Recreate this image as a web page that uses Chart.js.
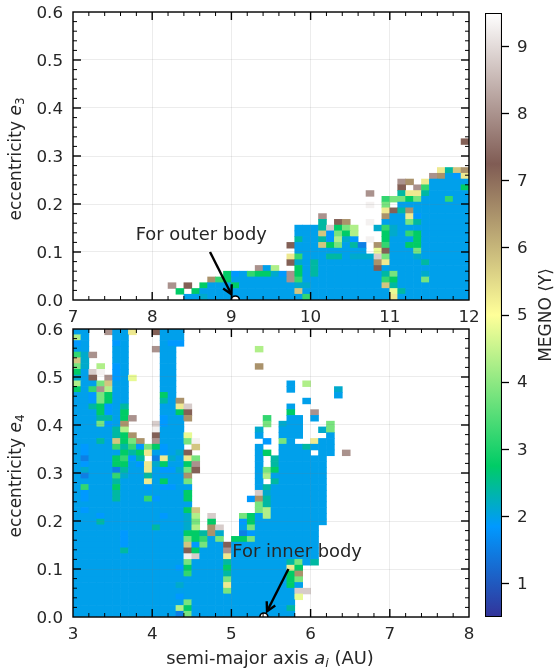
<!DOCTYPE html>
<html>
<head>
<meta charset="utf-8">
<title>MEGNO maps</title>
<script src="https://cdn.jsdelivr.net/npm/chart.js@4/dist/chart.umd.min.js"></script>
<style>
  html, body { margin: 0; padding: 0; background: #fff; }
  canvas { position: absolute; }
</style>
</head>
<body>
<canvas id="outerMap" style="left:0;top:0"></canvas>
<canvas id="innerMap" style="left:0;top:310px"></canvas>
<canvas id="colorBar" style="left:470px;top:0"></canvas>
<script>
// MEGNO, one char per cell, top row first, groups of 10 columns
// code -> value is in megnoLevels, '.' = no data
const megnoLevels = { 0: 1.5, 1: 1.85, 2: 1.97, 3: 2.15, 4: 2.4, 5: 2.75, 6: 3.2, 7: 3.8, 8: 4.3, 9: 4.8,
    a: 5.3, b: 5.8, c: 6.5, d: 7.2, e: 8.0, f: 8.8, g: 9.3 };

const outerRows = [
    '', '', '', '', '', '', '', '', '', '', '', '', '', '', '', '', '', '', '', '', '', '',
    '.......... .......... .......... .......... .........d',
    '', '', '', '',
    '.......... .......... .......... .......... ......a4bc',
    '.......... .......... .......... .......... .....ec21a',
    '.......... .......... .......... .......... .ec.a22222',
    '.......... .......... .......... .......... .d.e622225',
    '.......... .......... .......... .......e.. .4aa422222',
    '.......... .......... .......... .........6 7757222622',
    '.......... .......... .......... .......g.7 .222222222',
    '.......... .......... .......... .........a d4c2222222',
    '.......... .......... .......... .e.......c 22a1222222',
    '.......... .......... .......... .4.dc..g.2 2274222222',
    '.......... .......... ........22 24f578..36 3222222222',
    '.......... .......... ........22 2b1758...5 3265222222',
    '.......... .......... ........42 241831.g.5 2225222222',
    '.......... .......... .......d22 2b57240.c6 2255222222',
    '.......... .......... ........22 2222222.9d 2227222222',
    '.......... .......... .......a62 22442333f7 2223222222',
    '.......... .......... .......d32 42222222ca 2222422222',
    '.......... .......... ...e28..52 42222222d2 2222222222',
    '.......... .........5 1265531e52 4222222224 7222322222',
    '.......... .......c65 2222222e62 2222222226 5222722222',
    '.......... ..e.d.5222 5222222233 222222222b 4222222222',
    '.......... ...5.52222 22222222b2 2222222222 9422222222',
    '.......... ....223222 2222222226 2222222222 a222222222'
];

const innerRows = [
    '22..e22a.. d222',
    '82...22... .222',
    '12...12... .211',
    '22...22... e22 ...8',
    '63e..22... .22',
    'b3...22... .22',
    '73.8.12... .22 ...c',
    '52fg.12... .22',
    '32d.e129.. .22',
    '8227b22... .22 .......2.8',
    '526e822... .22 .......2.. ...3',
    '2217522... .52 .......... ...2',
    '2217522... .42c .........2',
    '2245124... .22af .......2..',
    '2225125... .225d .......5.. e',
    '2224425e.. .122c ....6..22. 2',
    '222712c... f122 ....7.322. ..7',
    '2222248... g222 ...3..222. .37',
    '2222245c.. d2229 ...2..222. ..2',
    '22242b57c. e2227g ....1.72.. a22',
    '2122264617 5122.b ...2..2224 222',
    '212222545a 2123d ...25.2222 .22.e',
    '202225614. 0a32a7 ...2.42222 22',
    '212225521a 35225e ...2.42222 22',
    '232220422a 21137d ...2752222 22',
    '2022263224 2222c ...2822222 22',
    '222224222a 25227 ...2.42222 22',
    '2622252221 21122 ...2422222 22',
    '2122242222 22225 ...f322222 22',
    '2122242226 12225 ..1c422222 22',
    '2222222222 22222 ...7422222 22',
    '2122222222 22225b ...7822222 22',
    '2221222222 212238.f .752822222 22',
    '2224222222 222237.5 .152222222 22',
    '2222222222 422238.cf .272222222 2',
    '2222221222 2222554c3 .012222222 2',
    '2222221222 222275627 5572222222 2',
    '2222221222 2222b1722d 2222222222 2',
    '2222224222 2222d5222e 2222222222 2',
    '2222222222 2222gf222a 2222222222 2',
    '2222222222 2222722224 2222222472 4',
    '2222222222 2221522225 2222222a5',
    '2222222222 2222622224 22222225c',
    '2222222222 2222222227 222222257',
    '2222222222 222322222a 222222252',
    '2222222222 2222222227 22222222ff',
    '2222222222 2221222222 222222229',
    '2222222222 2222722222 22222222',
    '2222222222 2228522222 22222224',
    '2222222222 2220722222 22222222'
];

const outerXTicks = [7, 8, 9, 10, 11, 12];
const innerXTicks = [3, 4, 5, 6, 7, 8];
const eTicks = [0, 0.1, 0.2, 0.3, 0.4, 0.5, 0.6];
const megnoTicks = [1, 2, 3, 4, 5, 6, 7, 8, 9];

// semi-major axis, eccentricity of the open circles
const outerBody = [9.05, 0];
const innerBody = [5.41, 0];

// terrain colormap, value -> rgb
const terrainStops = [
    [0.5, [51, 51, 153]], [1.85, [0, 153, 255]], [2.75, [0, 204, 102]],
    [5, [255, 255, 153]], [7.25, [128, 92, 84]], [9.5, [255, 255, 255]]
];
const terrain = (v) => {
    for (let i = 1; i < terrainStops.length; i++) {
        const [v0, c0] = terrainStops[i - 1];
        const [v1, c1] = terrainStops[i];
        if (v <= v1) {
            const f = (v - v0) / (v1 - v0);
            return `rgb(${c0.map((c, k) => Math.round(c + (c1[k] - c) * f)).join(',')})`;
        }
    }
    return 'rgb(255,255,255)';
};

const FONT = '"DejaVu Sans"';
const INK = '#262626';

// text with italic / subscript pieces, centred on cx,cy
const drawRichText = (ctx, pieces, cx, cy, size, rotation = 0) => {
    const fontOf = (p) => `${p.italic ? 'italic ' : ''}${p.sub ? size * 0.7 : size}px ${FONT}`;
    let total = 0;
    pieces.forEach(p => { ctx.font = fontOf(p); total += ctx.measureText(p.text).width; });
    ctx.save();
    ctx.translate(cx, cy);
    ctx.rotate(rotation);
    ctx.fillStyle = INK;
    ctx.textAlign = 'left';
    ctx.textBaseline = 'alphabetic';
    let x = -total / 2;
    pieces.forEach(p => {
        ctx.font = fontOf(p);
        ctx.fillText(p.text, x, p.sub ? size * 0.15 : 0);
        x += ctx.measureText(p.text).width;
    });
    ctx.restore();
};

// ticks inside on all four sides, frame, arrow and labels
const panelPlugin = {
    id: 'panelPlugin',
    afterDraw(chart, args, opts) {
        const { ctx, chartArea: a, scales: { x, y } } = chart;
        ctx.save();
        ctx.strokeStyle = '#000';
        const tick = (x0, y0, x1, y1, w) => {
            ctx.lineWidth = w;
            ctx.beginPath();
            ctx.moveTo(x0, y0);
            ctx.lineTo(x1, y1);
            ctx.stroke();
        };
        for (let i = 1; i < 25; i++) {
            const px = x.getPixelForValue(x.min + i * 0.2);
            const len = i % 5 === 0 ? 8 : 4;
            const w = i % 5 === 0 ? 1.4 : 1;
            tick(px, a.bottom, px, a.bottom - len, w);
            tick(px, a.top, px, a.top + len, w);
        }
        for (let i = 1; i < 30; i++) {
            const py = y.getPixelForValue(i * 0.02);
            const len = i % 5 === 0 ? 8 : 4;
            const w = i % 5 === 0 ? 1.4 : 1;
            tick(a.left, py, a.left + len, py, w);
            tick(a.right, py, a.right - len, py, w);
        }
        ctx.lineWidth = 1.4;
        ctx.strokeRect(a.left, a.top, a.right - a.left, a.bottom - a.top);

        // arrow from the text to the body
        const [fromX, fromY, toX, toY] = [
            x.getPixelForValue(opts.arrow[0]), y.getPixelForValue(opts.arrow[1]),
            x.getPixelForValue(opts.arrow[2]), y.getPixelForValue(opts.arrow[3])
        ];
        const ang = Math.atan2(toY - fromY, toX - fromX);
        tick(fromX, fromY, toX - 2 * Math.cos(ang), toY - 2 * Math.sin(ang), 2.4);
        ctx.lineWidth = 2.4;
        ctx.beginPath();
        ctx.moveTo(toX - 10 * Math.cos(ang - 0.5), toY - 10 * Math.sin(ang - 0.5));
        ctx.lineTo(toX, toY);
        ctx.lineTo(toX - 10 * Math.cos(ang + 0.5), toY - 10 * Math.sin(ang + 0.5));
        ctx.stroke();
        ctx.restore();

        drawRichText(ctx, [{ text: opts.note }],
            x.getPixelForValue(opts.notePos[0]), y.getPixelForValue(opts.notePos[1]), 17.9);
        drawRichText(ctx, opts.yLabel, 21, (a.top + a.bottom) / 2 + 3, 17, -Math.PI / 2);
        if (opts.xLabel) {
            drawRichText(ctx, opts.xLabel, (a.left + a.right) / 2 - 1, a.bottom + 47, 17.9);
        }
    }
};

// the scales must not push the plot area around
const noPadding = (s) => {
    s.paddingTop = 0;
    s.paddingBottom = 0;
    s.paddingLeft = 0;
    s.paddingRight = 0;
};

const renderPanel = (canvasId, rows, xMin, xTicks, body, canvasHeight, plotTop, plotBottom, labels) => {
    const canvas = document.getElementById(canvasId);
    canvas.width = 484;
    canvas.height = canvasHeight;

    // one floating bar per cell
    const cells = [];
    const cellW = (xTicks[xTicks.length - 1] - xTicks[0]) / 50;
    rows.forEach((row, idx) => {
        const r = rows.length - 1 - idx;
        row.split(' ').map(g => g.padEnd(10, '.')).join('').split('').forEach((code, k) => {
            if (code === '.') return;
            cells.push({ x: xMin + (k + 0.5) * cellW, y: [r * 0.012, (r + 1) * 0.012], v: megnoLevels[code] });
        });
    });

    return new Chart(canvas, {
        type: 'bar',
        data: {
            datasets: [{
                type: 'scatter',
                data: [{ x: body[0], y: body[1] }],
                pointRadius: 4,
                pointBackgroundColor: '#fff',
                pointBorderColor: '#000',
                pointBorderWidth: 1.6,
                order: 0
            }, {
                data: cells,
                backgroundColor: (c) => terrain(c.raw.v),
                barPercentage: 1,
                categoryPercentage: 1,
                order: 1
            }]
        },
        options: {
            responsive: false,
            animation: false,
            layout: { padding: { top: plotTop, right: 484 - 469, left: 0, bottom: 0 } },
            plugins: { legend: { display: false }, tooltip: { enabled: false }, panelPlugin: labels },
            scales: {
                x: {
                    type: 'linear',
                    offset: false,
                    min: xTicks[0],
                    max: xTicks[xTicks.length - 1],
                    afterFit: (s) => { s.height = canvasHeight - plotBottom; noPadding(s); },
                    afterBuildTicks: (s) => { s.ticks = xTicks.map(value => ({ value })); },
                    ticks: { color: INK, autoSkip: false, maxRotation: 0, padding: 8, font: { family: FONT, size: 16.7 } },
                    grid: { z: 1, offset: false, color: 'rgba(120,120,120,0.14)', lineWidth: 1, drawTicks: false },
                    border: { display: false }
                },
                y: {
                    min: 0,
                    max: 0.6,
                    afterFit: (s) => { s.width = 73; noPadding(s); },
                    afterBuildTicks: (s) => { s.ticks = eTicks.map(value => ({ value })); },
                    ticks: { color: INK, padding: 10, labelOffset: 2, font: { family: FONT, size: 16.7 }, callback: (v) => v.toFixed(1) },
                    grid: { z: 1, color: 'rgba(120,120,120,0.14)', lineWidth: 1, drawTicks: false },
                    border: { display: false }
                }
            }
        },
        plugins: [panelPlugin]
    });
};

renderPanel('outerMap', outerRows, 7, outerXTicks, outerBody, 325, 12, 300, {
    note: 'For outer body',
    notePos: [8.62, 0.126],
    arrow: [8.73, 0.1, 9.0, 0.012],
    yLabel: [{ text: 'eccentricity ' }, { text: 'e', italic: true }, { text: '3', sub: true }]
});

renderPanel('innerMap', innerRows, 3, innerXTicks, innerBody, 358, 19, 307, {
    note: 'For inner body',
    notePos: [5.83, 0.124],
    arrow: [5.72, 0.1, 5.45, 0.012],
    yLabel: [{ text: 'eccentricity ' }, { text: 'e', italic: true }, { text: '4', sub: true }],
    xLabel: [{ text: 'semi-major axis ' }, { text: 'a', italic: true }, { text: 'i', italic: true, sub: true }, { text: ' (AU)' }]
});

// colour bar: one floating bar filled with the colormap
const barCanvas = document.getElementById('colorBar');
barCanvas.width = 84;
barCanvas.height = 668;
new Chart(barCanvas, {
    type: 'bar',
    data: {
        labels: ['MEGNO'],
        datasets: [{
            data: [[0.5, 9.5]],
            barPercentage: 1,
            categoryPercentage: 1,
            borderColor: '#000',
            borderWidth: 1.4,
            borderSkipped: false,
            backgroundColor: (c) => {
                const y = c.chart.scales.y;
                const y0 = y ? y.getPixelForValue(0.5) : NaN;
                const y1 = y ? y.getPixelForValue(9.5) : NaN;
                if (!Number.isFinite(y0) || !Number.isFinite(y1)) return '#000';
                const g = c.chart.ctx.createLinearGradient(0, y0, 0, y1);
                terrainStops.forEach(([v]) => g.addColorStop((v - 0.5) / 9, terrain(v)));
                return g;
            }
        }]
    },
    options: {
        responsive: false,
        animation: false,
        layout: { padding: { left: 15, top: 13, bottom: 51, right: 0 } },
        plugins: { legend: { display: false }, tooltip: { enabled: false } },
        scales: {
            x: { display: false },
            y: {
                position: 'right',
                min: 0.5,
                max: 9.5,
                afterFit: (s) => { s.width = 52; noPadding(s); },
                afterBuildTicks: (s) => { s.ticks = megnoTicks.map(value => ({ value })); },
                ticks: { color: INK, padding: 8, labelOffset: 1, font: { family: FONT, size: 16.7 } },
                grid: { drawOnChartArea: false, tickLength: 7, tickColor: '#000', tickWidth: 1.3 },
                border: { display: false }
            }
        }
    },
    plugins: [{
        id: 'barLabel',
        afterDraw(chart) {
            drawRichText(chart.ctx, [{ text: 'MEGNO ⟨Y⟩' }], 81, 315, 17, -Math.PI / 2);
        }
    }]
});
</script>
</body>
</html>
